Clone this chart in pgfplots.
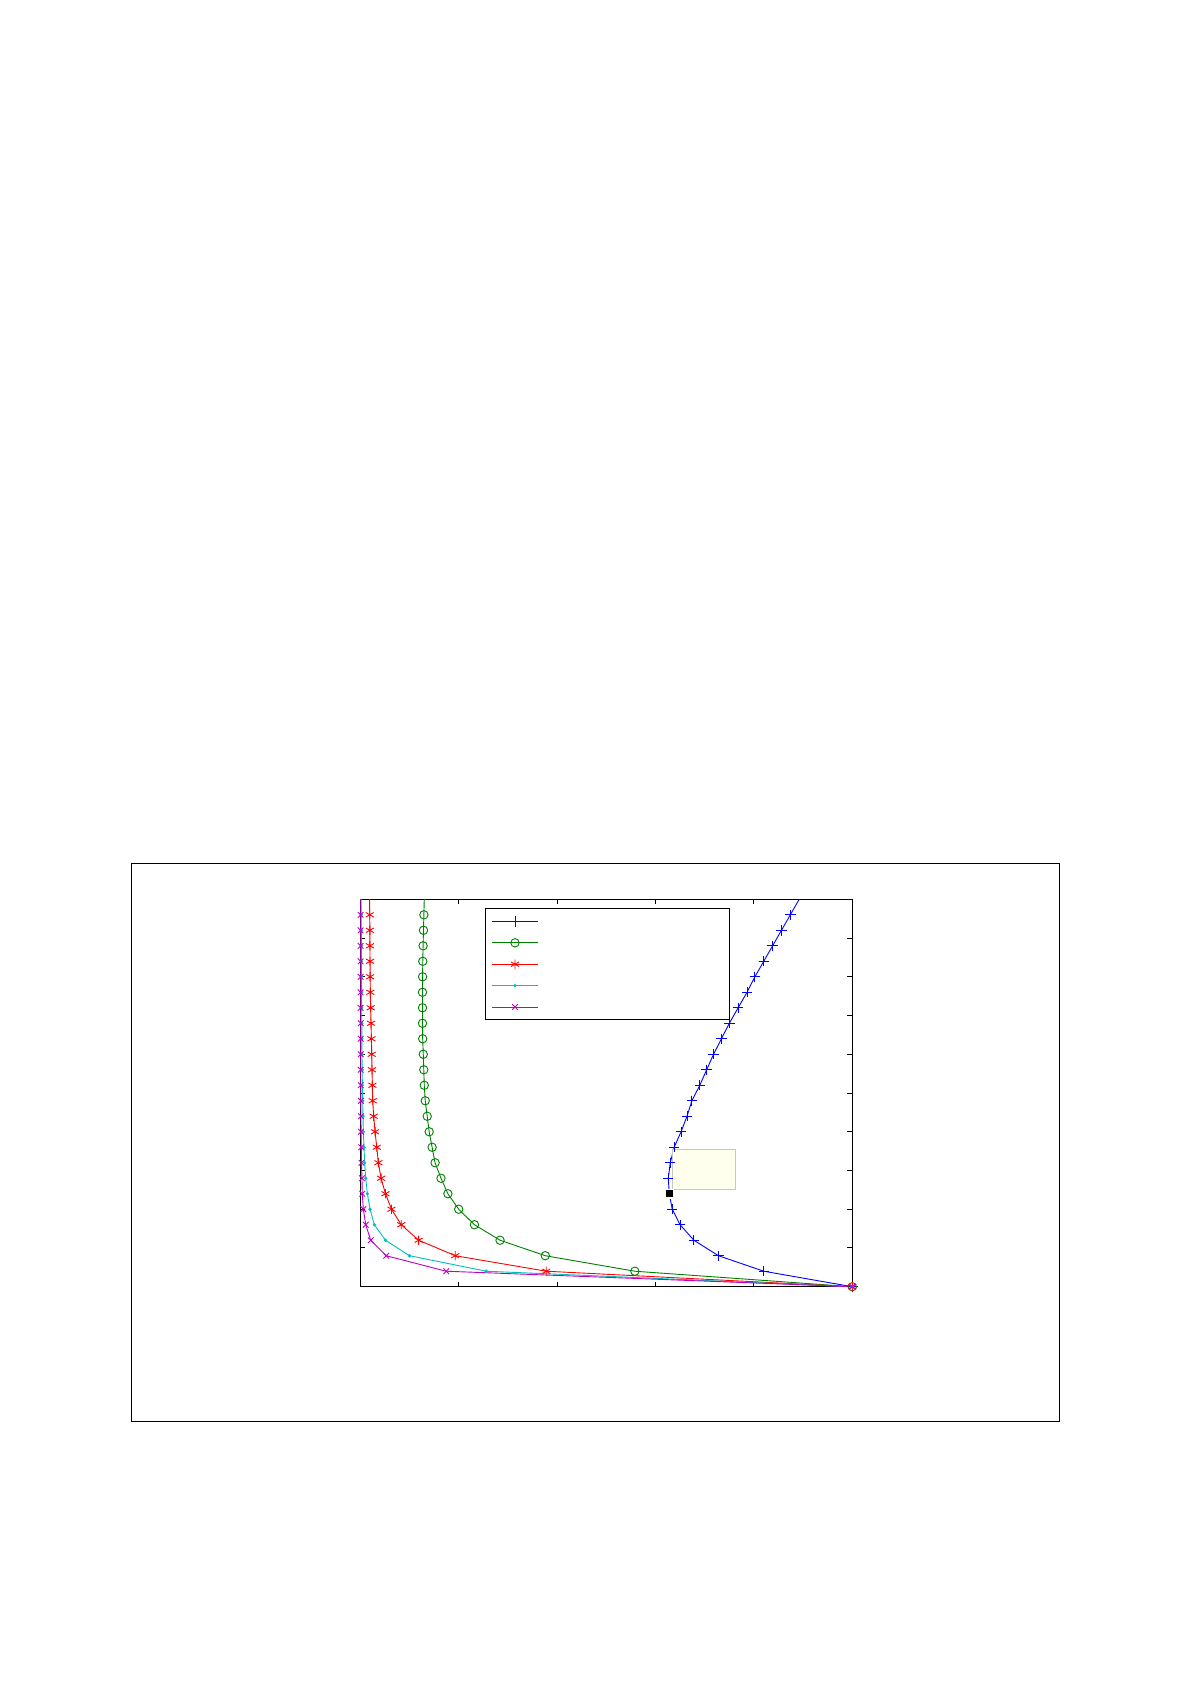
\documentclass[border=0pt]{standalone}
\usepackage{pgfplots}
\pgfplotsset{compat=1.18}
\usepackage{pgfplotstable}

\definecolor{mblue}{rgb}{0,0,1}
\definecolor{mgreen}{rgb}{0,0.5,0}
\definecolor{mred}{rgb}{1,0,0}
\definecolor{mcyan}{rgb}{0,0.75,0.75}
\definecolor{mmagenta}{rgb}{0.75,0,0.75}
\definecolor{tipfill}{rgb}{1,1,0.93}

% columns: row index k, then x of each curve
\pgfplotstableread{
k  blue  green  red    cyan   magenta
0  5.00  5.00   5.00   5.00   5.00
1  4.10  2.79   1.89   1.28   0.873
2  3.64  1.88   0.965  0.50   0.263
3  3.39  1.42   0.593  0.256  0.106
4  3.25  1.16   0.416  0.143  0.055
5  3.17  1.00   0.317  0.099  0.031
6  3.14  0.89   0.256  0.072  0.020
7  3.13  0.82   0.211  0.055  0.017
8  3.15  0.76   0.184  0.044  0.012
9  3.19  0.73   0.167  0.038  0.010
10 3.26  0.70   0.150  0.031  0.008
11 3.32  0.68   0.136  0.027  0.007
12 3.37  0.66   0.126  0.024  0.006
13 3.45  0.65   0.123  0.021  0.005
14 3.52  0.645  0.119  0.019  0.005
15 3.59  0.64   0.116  0.017  0.004
16 3.67  0.634  0.113  0.016  0.004
17 3.75  0.632  0.109  0.015  0.004
18 3.84  0.632  0.105  0.014  0.003
19 3.93  0.632  0.102  0.013  0.003
20 4.01  0.633  0.100  0.012  0.003
21 4.10  0.635  0.099  0.011  0.003
22 4.19  0.638  0.098  0.011  0.003
23 4.28  0.642  0.097  0.010  0.003
24 4.37  0.646  0.096  0.010  0.003
25 4.46  0.650  0.094  0.009  0.002
26 4.55  0.655  0.092  0.009  0.002
}\curves

\begin{document}
\begin{tikzpicture}
\useasboundingbox (0,0) rectangle (595.5pt,-842.5pt);
% outer figure frame
\draw[line width=0.6pt] (65.65pt,-431.65pt) rectangle (529.65pt,-710.65pt);
\begin{axis}[
  at={(180.15pt,-643.35pt)}, anchor=south west,
  scale only axis,
  width=246pt, height=193.7pt,
  xmin=0, xmax=5, ymin=0, ymax=25,
  xtick={1,2,3,4}, ytick={2.5,5,...,22.5},
  xticklabels={}, yticklabels={},
  tick align=inside, major tick length=2.5pt,
  tick style={black, line width=0.5pt},
  axis line style={line width=0.5pt},
  every axis plot/.append style={line width=0.45pt, mark indices={1,...,25}},
  legend style={at={(0.254,0.977)}, anchor=north west,
    draw=black, line width=0.5pt, inner xsep=3pt, inner ysep=1pt,
    row sep=0pt, nodes={inner sep=0pt, minimum height=10.7pt}},
  legend cell align=left,
  legend image code/.code={\draw[mark indices={2}]
    plot coordinates {(0cm,0cm) (0.4cm,0cm) (0.8cm,0cm)};},
]
\addplot[mblue, mark=+, mark size=2.6pt] table[x=blue, y=k] {\curves};
\addlegendentry{\hspace*{92.5pt}}
\addplot[mgreen, mark=o, mark size=2.1pt] table[x=green, y=k] {\curves};
\addlegendentry{\hspace*{92.5pt}}
\addplot[mred, mark=asterisk, mark size=2.3pt] table[x=red, y=k] {\curves};
\addlegendentry{\hspace*{92.5pt}}
\addplot[mcyan, mark=*, mark size=0.6pt] table[x=cyan, y=k] {\curves};
\addlegendentry{\hspace*{92.5pt}}
\addplot[mmagenta, mark=x, mark size=2pt] table[x=magenta, y=k] {\curves};
\addlegendentry{\hspace*{92.5pt}}
% data tip
\draw[draw=black!22, fill=tipfill, line width=0.5pt]
  (axis cs:3.171,6.28) rectangle (axis cs:3.815,8.865);
\addplot[forget plot, only marks, mark=square*, mark size=2.2pt,
  mark options={fill=black, draw=tipfill, line width=0.8pt}]
  coordinates {(3.14,6)};
\end{axis}
\end{tikzpicture}
\end{document}
